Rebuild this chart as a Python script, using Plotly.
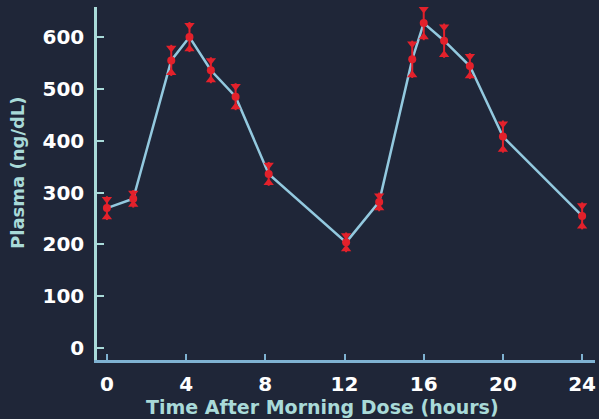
import plotly.graph_objects as go

hours = [0, 1.33, 3.25, 4.17, 5.25, 6.5, 8.17, 12.08, 13.75, 15.42, 16, 17.03, 18.33, 20, 24]
plasma = [270, 288, 555, 600, 536, 485, 336, 204, 282, 557, 627, 593, 544, 408, 255]
err = [23, 17, 30, 29, 25, 26, 23, 19, 18, 36, 33, 33, 25, 31, 26]
x_ticks = [0, 4, 8, 12, 16, 20, 24]
y_ticks = [0, 100, 200, 300, 400, 500, 600]
x_title = "Time After Morning Dose (hours)"
y_title = "Plasma (ng/dL)"

RED = "#e3212b"
TEAL = "#a9dad8"
tri_off = 6  # pull triangle markers slightly inward so their base sits at the bar end
top = [p + e - tri_off for p, e in zip(plasma, err)]
bot = [p - e + tri_off for p, e in zip(plasma, err)]

fig = go.Figure()
fig.add_trace(go.Scatter(x=hours, y=plasma, mode="lines",
                         line=dict(color="#93c9df", width=2.5), hoverinfo="skip"))
fig.add_trace(go.Scatter(x=hours, y=plasma, mode="markers",
                         marker=dict(color=RED, size=8),
                         error_y=dict(type="data", array=err, color=RED, thickness=2, width=0)))
fig.add_trace(go.Scatter(x=hours, y=top, mode="markers",
                         marker=dict(symbol="triangle-down", color=RED, size=9, line=dict(width=0))))
fig.add_trace(go.Scatter(x=hours, y=bot, mode="markers",
                         marker=dict(symbol="triangle-up", color=RED, size=9, line=dict(width=0))))

FONT = "DejaVu Sans"
fig.update_layout(
    width=599, height=419,
    margin=dict(l=97, r=4, t=7, b=59, autoexpand=False),
    paper_bgcolor="#1f2638", plot_bgcolor="#1f2638",
    showlegend=False,
    font=dict(family=FONT, color="white"),
    annotations=[
        dict(text=x_title, xref="paper", yref="paper", x=0.452, y=-0.132,
             xanchor="center", yanchor="middle", showarrow=False,
             font=dict(size=19, color=TEAL, family=FONT, weight=700)),
        dict(text=y_title, xref="paper", yref="paper", x=0, xshift=-79, y=0.53,
             xanchor="center", yanchor="middle", textangle=-90, showarrow=False,
             font=dict(size=18, color=TEAL, family=FONT, weight=700)),
    ],
)
fig.update_xaxes(
    range=[-0.5, 24.65], tickvals=x_ticks, ticktext=[str(v) for v in x_ticks],
    automargin=False,
    showgrid=False, zeroline=False, showline=True, linecolor="#7fb2d2", linewidth=2.5,
    ticks="inside", ticklen=6, tickwidth=2, tickcolor="#7fb2d2",
    ticklabelstandoff=4,
    tickfont=dict(size=20, color="white", family=FONT, weight=700),
)
fig.update_yaxes(
    range=[-23, 658], tickvals=y_ticks, automargin=False,
    showgrid=False, zeroline=False, showline=True, linecolor=TEAL, linewidth=2.5,
    ticks="inside", ticklen=7, tickwidth=2, tickcolor=TEAL,
    ticklabelstandoff=6,
    tickfont=dict(size=20, color="white", family=FONT, weight=700),
)

fig.write_html("out.html", config={"displayModeBar": False},
               post_script="document.body.style.margin='0';document.body.style.overflow='hidden';document.body.style.background='#1f2638';")
